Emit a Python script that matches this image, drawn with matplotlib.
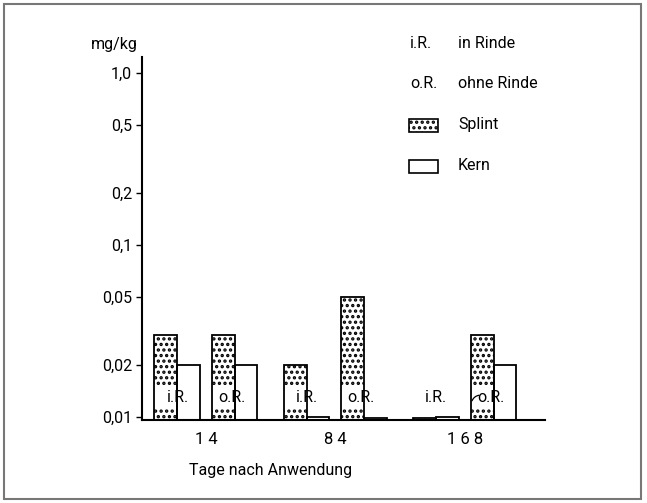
import matplotlib
from matplotlib import pyplot as plt
from matplotlib.patches import Rectangle

matplotlib.use("Agg")

DAYS = ["1 4", "8 4", "1 6 8"]
SPLINT_IR = [0.03, 0.02, 0.0098]
KERN_IR = [0.02, 0.0100, 0.0100]
SPLINT_OR = [0.03, 0.05, 0.03]
KERN_OR = [0.02, 0.0098, 0.02]
Y_TICKS = [0.01, 0.02, 0.05, 0.1, 0.2, 0.5, 1.0]
Y_TICK_LABELS = ["0,01", "0,02", "0,05", "0,1", "0,2", "0,5", "1,0"]
LEGEND_ABBR = ["i.R.", "o.R."]
LEGEND_TEXT = ["in Rinde", "ohne Rinde", "Splint", "Kern"]

Y_MIN, Y_MAX = 0.0096, 1.24
LABEL_Y = 0.0129
W = 0.175
OFFSETS = {"splint_ir": -0.31, "kern_ir": -0.135, "splint_or": 0.135, "kern_or": 0.31}
FS = 11.5
DOTS = "..."

plt.rcParams["font.family"] = ["Roboto", "DejaVu Sans"]
plt.rcParams["hatch.linewidth"] = 1.6


def draw_bars(ax, x, values, offset, hatch):
    pos = [i + offset for i in x]
    heights = [v - Y_MIN for v in values]
    ax.bar(pos, heights, W, bottom=Y_MIN, color="white", edgecolor="black",
           hatch=hatch, linewidth=0, zorder=2)
    return pos


def main() -> None:
    fig = plt.figure(figsize=(6.47, 5.03), dpi=100)
    ax = fig.add_axes([142 / 647, 83 / 503, 403 / 647, 363 / 503])
    x = list(range(len(DAYS)))

    series = [
        (SPLINT_IR, OFFSETS["splint_ir"], DOTS),
        (KERN_IR, OFFSETS["kern_ir"], None),
        (SPLINT_OR, OFFSETS["splint_or"], DOTS),
        (KERN_OR, OFFSETS["kern_or"], None),
    ]
    for values, offset, hatch in series:
        pos = draw_bars(ax, x, values, offset, hatch)
        # white band behind the i.R./o.R. labels
        if hatch:
            lo, hi = LABEL_Y / 1.14, LABEL_Y * 1.19
            band_pos = [p for p, v in zip(pos, values) if v > hi]
            ax.bar(band_pos, hi - lo, W, bottom=lo, color="white",
                   linewidth=0, zorder=3)
        ax.bar(pos, [v - Y_MIN for v in values], W, bottom=Y_MIN, fill=False,
               edgecolor="black", linewidth=1.3, zorder=4)

    for i in x:
        ax.text(i - 0.22, LABEL_Y, "i.R.", ha="center", va="center", fontsize=FS, zorder=5)
        ax.text(i + 0.2, LABEL_Y, "o.R.", ha="center", va="center", fontsize=FS, zorder=5)
    ax.annotate("", xy=(2 + 0.13, LABEL_Y * 1.04), xytext=(2 + 0.05, LABEL_Y * 0.93),
                arrowprops=dict(arrowstyle="-", lw=0.9, connectionstyle="arc3,rad=-0.4"),
                zorder=6)

    ax.set_yscale("log")
    ax.set_ylim(Y_MIN, Y_MAX)
    ax.set_xlim(-0.494, 2.62)
    ax.set_yticks(Y_TICKS)
    ax.set_yticklabels(Y_TICK_LABELS)
    ax.yaxis.set_minor_locator(matplotlib.ticker.NullLocator())
    ax.set_xticks(x)
    ax.set_xticklabels(DAYS)
    ax.tick_params(axis="x", length=0, pad=9, labelsize=FS + 0.5)
    ax.tick_params(axis="y", length=4, width=1, pad=3, labelsize=FS)
    for side in ("top", "right"):
        ax.spines[side].set_visible(False)
    ax.spines["left"].set_linewidth(1.5)
    ax.spines["bottom"].set_linewidth(1.5)

    fig.text(271 / 647, 1 - 470 / 503, "Tage nach Anwendung", ha="center", va="center", fontsize=FS)
    fig.text(114 / 647, 1 - 45 / 503, "mg/kg", ha="center", va="center", fontsize=FS)

    # legend
    rows = [43, 83, 125, 166]
    for abbr, y in zip(LEGEND_ABBR, rows[:2]):
        fig.text(410 / 647, 1 - y / 503, abbr, ha="left", va="center", fontsize=FS)
    for label, y in zip(LEGEND_TEXT, rows):
        fig.text(458 / 647, 1 - y / 503, label, ha="left", va="center", fontsize=FS)
    for y, hatch in zip(rows[2:], [DOTS, None]):
        fig.patches.append(Rectangle((409 / 647, 1 - (y + 6.5) / 503), 29 / 647, 13 / 503,
                                     transform=fig.transFigure, facecolor="white",
                                     edgecolor="black", hatch=hatch, linewidth=1.2))

    fig.patches.append(Rectangle((4 / 647, 4 / 503), 637 / 647, 495 / 503,
                                 transform=fig.transFigure, fill=False,
                                 edgecolor="#777777", linewidth=1.5))

    fig.savefig("out.png", dpi=100)


if __name__ == "__main__":
    main()
